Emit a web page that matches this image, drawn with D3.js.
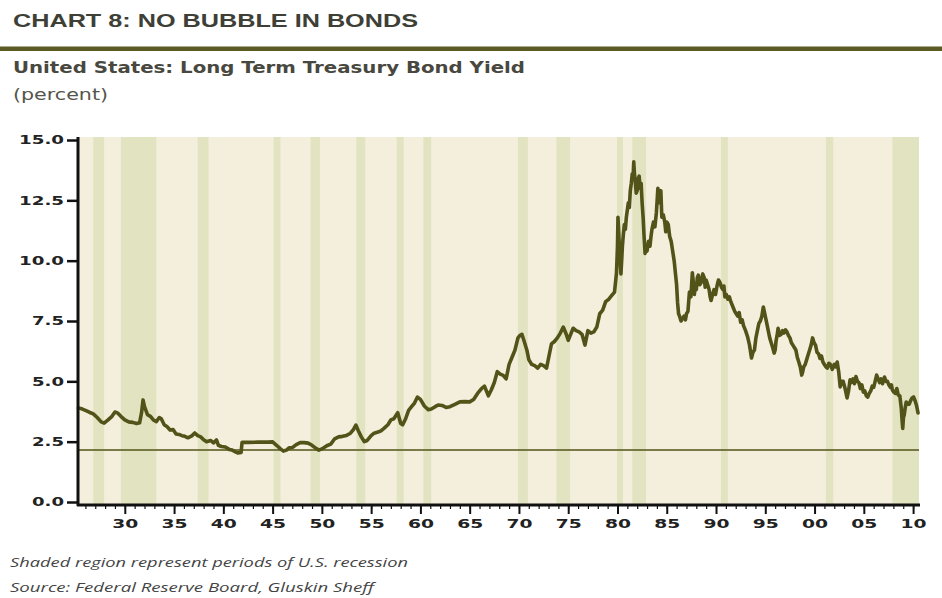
<!DOCTYPE html>
<html>
<head>
<meta charset="utf-8">
<script src="https://cdn.jsdelivr.net/npm/d3@7"></script>
<style>
  html, body { margin: 0; padding: 0; background: #ffffff; }
  svg { display: block; }
</style>
</head>
<body>
<svg id="chart" width="942" height="598"></svg>
<script>
// ---------------- DATA ----------------
const years = [
  1925.3,1925.7,1926.0,1926.4,1926.8,1927.2,1927.6,1927.9,1928.3,1928.7,1929.0,1929.3,1929.6,1930.0,1930.4,1930.8,
  1931.2,1931.5,1931.7,1931.85,1932.0,1932.3,1932.6,1932.9,1933.2,1933.5,1933.7,1934.0,1934.3,1934.6,1934.9,1935.2,
  1935.5,1935.8,1936.1,1936.4,1936.8,1937.1,1937.4,1937.7,1938.0,1938.3,1938.7,1939.0,1939.3,1939.5,1939.8,1940.2,
  1940.6,1940.9,1941.2,1941.5,1941.8,1941.9,1942.5,1943.5,1944.5,1945.0,1945.4,1945.8,1946.1,1946.4,1946.7,1947.0,
  1947.4,1947.8,1948.2,1948.6,1949.0,1949.4,1949.7,1950.0,1950.5,1950.9,1951.3,1951.7,1952.1,1952.5,1952.9,1953.2,
  1953.45,1953.7,1954.0,1954.3,1954.6,1955.0,1955.3,1955.7,1956.0,1956.3,1956.7,1957.0,1957.3,1957.7,1958.0,1958.2,
  1958.5,1958.8,1959.1,1959.4,1959.7,1960.0,1960.4,1960.8,1961.1,1961.5,1961.8,1962.2,1962.6,1963.0,1963.5,1964.0,
  1964.5,1965.0,1965.4,1965.8,1966.2,1966.5,1966.9,1967.2,1967.5,1967.8,1968.1,1968.4,1968.7,1969.0,1969.3,1969.6,
  1969.9,1970.1,1970.3,1970.5,1970.8,1971.0,1971.3,1971.6,1971.9,1972.2,1972.5,1972.8,1973.0,1973.3,1973.6,1973.9,
  1974.2,1974.5,1974.8,1975.0,1975.3,1975.5,1975.8,1976.1,1976.4,1976.7,1977.0,1977.3,1977.6,1977.9,1978.2,1978.5,
  1978.8,1979.1,1979.4,1979.7,1979.8,1979.9,1980.0,1980.05,1980.12,1980.2,1980.3,1980.35,1980.45,1980.5,1980.6,1980.7,
  1980.8,1980.9,1981.0,1981.1,1981.2,1981.3,1981.4,1981.5,1981.58,1981.65,1981.72,1981.8,1981.9,1982.0,1982.1,1982.2,
  1982.3,1982.4,1982.5,1982.6,1982.7,1982.8,1982.9,1983.0,1983.15,1983.3,1983.4,1983.5,1983.65,1983.8,1983.95,1984.1,
  1984.2,1984.3,1984.4,1984.5,1984.65,1984.8,1984.9,1985.0,1985.15,1985.3,1985.45,1985.6,1985.75,1985.9,1986.0,1986.1,
  1986.2,1986.3,1986.45,1986.6,1986.75,1986.9,1987.0,1987.15,1987.3,1987.45,1987.6,1987.7,1987.8,1987.9,1988.0,1988.1,
  1988.2,1988.35,1988.5,1988.65,1988.8,1988.9,1989.0,1989.15,1989.3,1989.4,1989.5,1989.65,1989.8,1989.95,1990.1,1990.25,
  1990.4,1990.55,1990.7,1990.8,1990.9,1991.05,1991.2,1991.35,1991.5,1991.7,1991.9,1992.05,1992.2,1992.35,1992.5,1992.65,
  1992.8,1993.0,1993.2,1993.4,1993.6,1993.75,1993.9,1994.05,1994.2,1994.35,1994.5,1994.65,1994.8,1994.9,1995.0,1995.15,
  1995.3,1995.45,1995.6,1995.75,1995.9,1996.0,1996.1,1996.2,1996.3,1996.45,1996.6,1996.75,1996.9,1997.05,1997.2,1997.35,
  1997.5,1997.65,1997.8,1997.95,1998.1,1998.25,1998.4,1998.55,1998.7,1998.8,1998.9,1999.05,1999.2,1999.35,1999.5,1999.65,
  1999.8,1999.95,2000.1,2000.25,2000.4,2000.55,2000.7,2000.85,2001.0,2001.15,2001.3,2001.45,2001.6,2001.8,2002.0,2002.15,
  2002.3,2002.45,2002.6,2002.75,2002.9,2003.1,2003.3,2003.45,2003.6,2003.75,2003.9,2004.05,2004.2,2004.35,2004.5,2004.65,
  2004.8,2004.95,2005.1,2005.25,2005.4,2005.55,2005.7,2005.85,2006.0,2006.15,2006.3,2006.45,2006.6,2006.75,2006.9,2007.0,
  2007.1,2007.25,2007.4,2007.55,2007.7,2007.8,2007.9,2008.05,2008.2,2008.35,2008.5,2008.65,2008.8,2008.88,2008.95,2009.02,
  2009.1,2009.2,2009.3,2009.45,2009.6,2009.75,2009.9,2010.05,2010.2,2010.35,2010.5
];
const yields = [
  3.90,3.85,3.80,3.72,3.65,3.50,3.32,3.27,3.40,3.55,3.73,3.68,3.55,3.40,3.32,3.30,
  3.25,3.28,3.70,4.23,3.95,3.62,3.55,3.40,3.33,3.50,3.45,3.20,3.12,2.98,3.00,2.82,
  2.80,2.75,2.72,2.66,2.74,2.86,2.75,2.70,2.58,2.50,2.55,2.45,2.57,2.35,2.30,2.28,
  2.18,2.15,2.08,2.03,2.05,2.47,2.47,2.48,2.48,2.49,2.35,2.20,2.11,2.15,2.25,2.25,
  2.38,2.46,2.46,2.44,2.35,2.22,2.15,2.20,2.33,2.40,2.62,2.70,2.72,2.76,2.85,3.00,
  3.19,2.95,2.70,2.50,2.55,2.75,2.85,2.90,2.95,3.05,3.20,3.40,3.45,3.70,3.25,3.20,
  3.45,3.80,3.95,4.10,4.35,4.25,3.98,3.82,3.85,3.95,4.02,4.00,3.92,3.95,4.05,4.15,
  4.16,4.15,4.25,4.50,4.70,4.80,4.40,4.65,4.95,5.40,5.30,5.25,5.10,5.70,6.00,6.30,
  6.80,6.90,6.95,6.70,6.30,5.90,5.70,5.65,5.55,5.70,5.65,5.55,5.95,6.55,6.65,6.80,
  7.00,7.25,6.95,6.70,7.00,7.20,7.10,7.05,6.95,6.50,7.10,7.00,7.05,7.25,7.80,7.95,
  8.30,8.40,8.55,8.70,9.10,9.50,10.60,11.80,11.20,10.50,9.80,9.45,10.20,10.60,11.10,11.50,
  11.30,11.80,12.10,12.40,12.20,12.90,13.20,13.60,13.40,14.10,13.60,13.30,12.80,12.90,13.40,13.50,
  13.00,13.20,12.40,11.80,11.00,10.30,10.50,10.40,10.80,10.60,11.00,11.30,11.60,11.40,12.00,13.00,
  12.60,12.40,12.90,11.80,11.90,11.60,11.20,11.60,11.50,11.00,10.80,10.40,10.00,9.40,9.00,8.25,
  7.80,7.70,7.50,7.60,7.70,7.55,7.80,7.90,8.70,8.50,9.50,9.10,8.60,9.00,8.80,9.30,
  9.40,9.00,9.10,9.45,9.30,8.90,9.20,9.00,8.80,8.50,8.35,8.60,8.80,8.60,8.95,9.20,
  9.10,8.90,8.80,8.95,8.50,8.60,8.40,8.50,8.30,8.10,7.90,7.80,7.70,7.85,7.45,7.55,
  7.30,7.10,6.85,6.50,5.97,6.20,6.30,6.80,7.10,7.40,7.50,7.70,8.08,7.90,7.70,7.40,
  7.10,6.80,6.60,6.40,6.17,6.30,6.70,6.90,7.20,6.90,6.95,7.10,7.00,7.13,7.05,6.90,
  6.80,6.60,6.50,6.40,6.30,6.00,5.80,5.60,5.26,5.40,5.60,5.70,5.90,6.10,6.30,6.50,
  6.80,6.60,6.50,6.20,6.15,5.95,6.05,5.80,5.70,5.60,5.55,5.75,5.70,5.50,5.70,5.60,
  5.80,5.40,4.77,5.00,5.00,4.70,4.31,4.60,5.06,4.95,5.10,4.90,5.20,5.00,4.95,4.70,
  4.85,4.55,4.60,4.40,4.35,4.50,4.60,4.80,4.75,5.00,5.26,5.10,4.95,5.10,4.90,5.05,
  5.18,5.00,5.00,4.85,4.75,4.85,4.64,4.55,4.50,4.70,4.43,4.40,3.90,3.40,3.05,3.50,
  3.60,3.90,4.14,4.05,4.05,4.20,4.31,4.35,4.20,4.00,3.69
];
// U.S. recessions (start, end as decimal years)
const recessionStart = [1926.8,1929.6,1937.4,1945.1,1948.85,1953.5,1957.6,1960.3,1969.9,1973.8,1979.95,1981.5,1990.5,2001.15,2007.9];
const recessionEnd   = [1927.9,1933.2,1938.5,1945.8,1949.8,1954.4,1958.3,1961.1,1970.9,1975.2,1980.55,1982.9,1991.2,2001.9,2010.6];
const yTicks = [0, 2.5, 5.0, 7.5, 10.0, 12.5, 15.0];
const xMajorTicks = [1930,1935,1940,1945,1950,1955,1960,1965,1970,1975,1980,1985,1990,1995,2000,2005,2010];
const xMinorTicks = d3.range(1926, 2011);
const referenceLevel = 2.15;
const titleText = "CHART 8: NO BUBBLE IN BONDS";
const subtitleText = "United States: Long Term Treasury Bond Yield";
const unitText = "(percent)";
const note1 = "Shaded region represent periods of U.S. recession";
const note2 = "Source: Federal Reserve Board, Gluskin Sheff";

// ---------------- LAYOUT ----------------
const svg = d3.select("#chart");
const plotLeft = 78, plotRight = 919, plotTop = 137, axisY = 505;
const x = d3.scaleLinear().domain([1925.25, 2010.6]).range([plotLeft, plotRight]);
const y = d3.scaleLinear().domain([0, 15]).range([502, 140]);

const olive = "#525319";
const bgCream = "#f4efdc";
const bandColor = "#e2e3c1";

// Title block
svg.append("text").attr("x", 13).attr("y", 27)
  .attr("font-family", "Liberation Sans, Arial, sans-serif").attr("font-weight", "bold")
  .attr("font-size", 19).attr("fill", "#3e3f36")
  .attr("textLength", 405).attr("lengthAdjust", "spacingAndGlyphs")
  .text(titleText);
svg.append("rect").attr("x", 0).attr("y", 46.5).attr("width", 942).attr("height", 4.5).attr("fill", "#5a5a22");
svg.append("text").attr("x", 13).attr("y", 73)
  .attr("font-family", "DejaVu Sans, sans-serif").attr("font-weight", "bold")
  .attr("font-size", 15).attr("fill", "#48483f")
  .attr("textLength", 512).attr("lengthAdjust", "spacingAndGlyphs")
  .text(subtitleText);
svg.append("text").attr("x", 13).attr("y", 100)
  .attr("font-family", "DejaVu Sans, sans-serif")
  .attr("font-size", 15).attr("fill", "#55554c")
  .attr("textLength", 95).attr("lengthAdjust", "spacingAndGlyphs")
  .text(unitText);

// Plot background
svg.append("rect").attr("x", plotLeft).attr("y", plotTop)
  .attr("width", plotRight - plotLeft).attr("height", axisY - plotTop).attr("fill", bgCream);

// Recession bands
svg.append("g").selectAll("rect").data(recessionStart.map((s, i) => [s, recessionEnd[i]]))
  .join("rect")
  .attr("x", d => x(d[0])).attr("width", d => x(d[1]) - x(d[0]))
  .attr("y", plotTop).attr("height", axisY - plotTop)
  .attr("fill", bandColor);

// Reference line
svg.append("line").attr("x1", plotLeft).attr("x2", plotRight)
  .attr("y1", y(referenceLevel)).attr("y2", y(referenceLevel))
  .attr("stroke", olive).attr("stroke-width", 1.5);

// Data line
const pts = years.map((yr, i) => [yr, yields[i]]);
svg.append("path").datum(pts)
  .attr("fill", "none").attr("stroke", olive).attr("stroke-width", 3.6)
  .attr("stroke-linejoin", "round").attr("stroke-linecap", "round")
  .attr("d", d3.line().x(d => x(d[0])).y(d => y(d[1])));

// Axes
const tickFont = "DejaVu Sans, sans-serif";
const yAxis = d3.axisLeft(y).tickValues(yTicks).tickFormat(d3.format(".1f")).tickSize(11).tickPadding(3);
const gy = svg.append("g").attr("transform", `translate(${plotLeft},0)`).call(yAxis);
gy.select(".domain").remove();
gy.selectAll(".tick line").attr("stroke", "#111").attr("stroke-width", 2.5);
gy.selectAll(".tick text")
  .attr("font-family", tickFont).attr("font-weight", "bold").attr("font-size", 12).attr("fill", "#222")
  .attr("textLength", d => { const s = d3.format(".1f")(d); return (s.length - 1) * 13 + 6; })
  .attr("lengthAdjust", "spacingAndGlyphs");
svg.append("line").attr("x1", plotLeft).attr("x2", plotLeft).attr("y1", plotTop).attr("y2", axisY + 1)
  .attr("stroke", "#111").attr("stroke-width", 3);

// X axis minor ticks
const xMinor = d3.axisBottom(x).tickValues(xMinorTicks).tickSize(4).tickFormat("");
const gxm = svg.append("g").attr("transform", `translate(0,${axisY})`).call(xMinor);
gxm.select(".domain").remove();
gxm.selectAll(".tick line").attr("stroke", "#111").attr("stroke-width", 1.2);

const xAxis = d3.axisBottom(x).tickValues(xMajorTicks)
  .tickFormat(d => d3.format("02d")(d % 100)).tickSize(9).tickPadding(5);
const gx = svg.append("g").attr("transform", `translate(0,${axisY})`).call(xAxis);
gx.select(".domain").remove();
gx.selectAll(".tick line").attr("stroke", "#111").attr("stroke-width", 2);
gx.selectAll(".tick text")
  .attr("font-family", tickFont).attr("font-weight", "bold").attr("font-size", 12).attr("fill", "#222")
  .attr("textLength", 26).attr("lengthAdjust", "spacingAndGlyphs");
svg.append("line").attr("x1", plotLeft - 1).attr("x2", plotRight + 1).attr("y1", axisY).attr("y2", axisY)
  .attr("stroke", "#111").attr("stroke-width", 3);

// Footnotes
svg.append("text").attr("x", 10).attr("y", 567)
  .attr("font-family", "Open Sans, sans-serif").attr("font-style", "italic")
  .attr("font-size", 12.5).attr("fill", "#444")
  .attr("textLength", 398).attr("lengthAdjust", "spacingAndGlyphs")
  .text(note1);
svg.append("text").attr("x", 10).attr("y", 592)
  .attr("font-family", "Open Sans, sans-serif").attr("font-style", "italic")
  .attr("font-size", 12.5).attr("fill", "#444")
  .attr("textLength", 364).attr("lengthAdjust", "spacingAndGlyphs")
  .text(note2);
</script>
</body>
</html>
